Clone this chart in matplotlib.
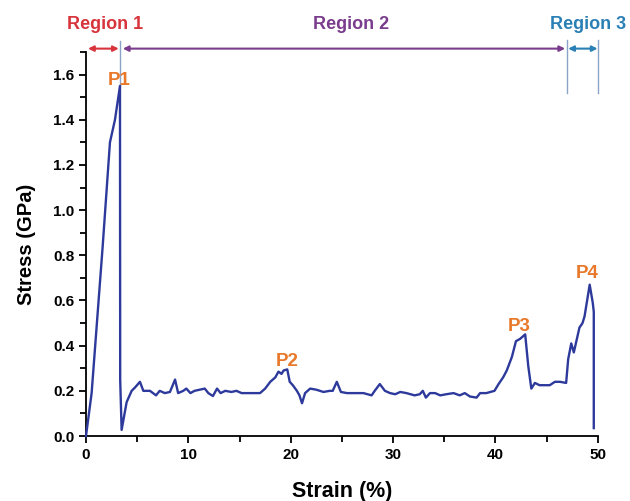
import matplotlib.pyplot as plt
from matplotlib.ticker import MultipleLocator

plt.rcParams["font.family"] = ["Liberation Sans", "DejaVu Sans"]
plt.rcParams["font.weight"] = "bold"

# stress-strain curve
strain = [0.0, 0.55, 1.63, 2.34, 2.83, 3.32, 3.34, 3.48, 3.97, 4.46, 4.79, 5.27, 5.6,
          6.25, 6.84, 7.2, 7.7, 8.2, 8.7, 9.0, 9.5, 9.8, 10.2, 10.6, 11.1, 11.6,
          11.95, 12.4, 12.8, 13.15, 13.6, 14.2, 14.7, 15.2, 17.0, 17.5, 18.0, 18.5,
          18.8, 19.1, 19.3, 19.66, 19.9, 20.2, 20.6, 20.85, 21.1, 21.4, 21.9, 22.5,
          23.2, 23.8, 24.1, 24.5, 24.9, 25.5, 26.1, 27.1, 27.9, 28.2, 28.7, 29.2,
          29.7, 30.2, 30.7, 31.3, 32.1, 32.6, 32.9, 33.2, 33.6, 34.1, 34.6, 35.2,
          35.9, 36.5, 37.0, 37.5, 38.15, 38.5, 39.1, 39.9, 40.3, 40.75, 41.1, 41.6,
          42.0, 42.4, 42.9, 43.2, 43.5, 43.85, 44.3, 45.3, 45.8, 46.3, 46.9, 47.1,
          47.4, 47.65, 48.2, 48.5, 48.7, 49.2, 49.5, 49.6, 49.6]
stress = [0.0, 0.19, 0.84, 1.30, 1.40, 1.55, 0.25, 0.027, 0.15, 0.20, 0.215, 0.24, 0.20,
          0.20, 0.18, 0.20, 0.19, 0.195, 0.25, 0.19, 0.20, 0.21, 0.19, 0.20, 0.205, 0.21,
          0.19, 0.177, 0.21, 0.19, 0.20, 0.195, 0.20, 0.19, 0.19, 0.21, 0.24, 0.26,
          0.285, 0.275, 0.29, 0.295, 0.24, 0.225, 0.20, 0.18, 0.145, 0.19, 0.21, 0.205,
          0.195, 0.20, 0.20, 0.24, 0.195, 0.19, 0.19, 0.19, 0.18, 0.20, 0.23, 0.20,
          0.19, 0.185, 0.195, 0.19, 0.18, 0.185, 0.20, 0.17, 0.19, 0.19, 0.18, 0.185,
          0.19, 0.18, 0.19, 0.175, 0.17, 0.19, 0.19, 0.20, 0.23, 0.26, 0.29, 0.35,
          0.42, 0.43, 0.45, 0.31, 0.21, 0.235, 0.225, 0.225, 0.24, 0.24, 0.235, 0.34,
          0.41, 0.37, 0.48, 0.50, 0.53, 0.67, 0.59, 0.55, 0.035]

peak_labels = ["P1", "P2", "P3", "P4"]
peak_x = [3.2, 19.7, 42.3, 49.0]
peak_y = [1.575, 0.33, 0.487, 0.72]

region_labels = ["Region 1", "Region 2", "Region 3"]
region_colors = ["#d8343c", "#7a3c8c", "#2a80b5"]
region_start = [0.2, 3.6, 47.1]
region_end = [3.2, 46.8, 49.97]
region_text_x = [1.9, 25.9, 49.0]
boundaries = [3.3, 47.0, 50.0]

fig = plt.figure(figsize=(6.3, 5.01), dpi=100)
ax = fig.add_axes([0.1365, 0.1297, 0.8125, 0.7665])

# region boundary lines
ax.plot([boundaries[0]] * 2, [1.55, 1.75], color="#8aa4c8", lw=1.0, clip_on=False)
for b in boundaries[1:]:
    ax.plot([b, b], [1.518, 1.752], color="#8aa4c8", lw=1.0, clip_on=False)

ax.plot(strain, stress, color="#2d3a9c", lw=1.7, clip_on=False, zorder=3)

for lab, c, x0, x1, tx in zip(region_labels, region_colors, region_start,
                              region_end, region_text_x):
    ax.annotate("", xy=(x1, 1.715), xytext=(x0, 1.715), annotation_clip=False,
                arrowprops=dict(arrowstyle="<|-|>", color=c, lw=1.5,
                                mutation_scale=8, shrinkA=0, shrinkB=0))
    ax.text(tx, 1.82, lab, color=c, fontsize=13, fontweight="bold",
            ha="center", va="center", clip_on=False)

for lab, x, y in zip(peak_labels, peak_x, peak_y):
    ax.text(x, y, lab, color="#e8782a", fontsize=13.5, fontweight="bold",
            ha="center", va="center", zorder=4)

ax.set_xlim(0, 50)
ax.set_ylim(0, 1.7)
ax.xaxis.set_major_locator(MultipleLocator(10))
ax.xaxis.set_minor_locator(MultipleLocator(5))
ax.yaxis.set_major_locator(MultipleLocator(0.2))
ax.yaxis.set_minor_locator(MultipleLocator(0.1))
ax.yaxis.set_major_formatter(plt.FuncFormatter(lambda v, p: f"{v:.1f}"))
ax.spines["top"].set_visible(False)
ax.spines["right"].set_visible(False)
for s in ("left", "bottom"):
    ax.spines[s].set_linewidth(1.3)
ax.tick_params(which="both", direction="out", width=1.3, labelsize=11)
ax.tick_params(which="major", length=5)
ax.tick_params(which="minor", length=4)
for t in ax.get_xticklabels() + ax.get_yticklabels():
    t.set_fontweight("bold")

ax.set_xlabel("Strain (%)", fontsize=15.5, fontweight="bold", labelpad=14)
ax.set_ylabel("Stress (GPa)", fontsize=14.5, fontweight="bold", labelpad=12)

fig.savefig("out.png", dpi=100)
